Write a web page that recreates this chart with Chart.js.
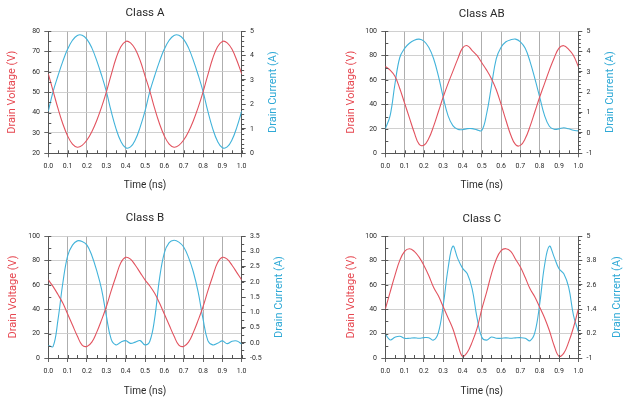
<!DOCTYPE html>
<html><head><meta charset="utf-8">
<script src="https://cdn.jsdelivr.net/npm/chart.js@4.4.1/dist/chart.umd.min.js"></script>
<style>
html,body{margin:0;padding:0;background:#fff;width:633px;height:402px;overflow:hidden}
.p{position:absolute}
</style></head><body>
<div class="p" style="left:0;top:0;width:316px;height:200px"><canvas id="cA"></canvas></div>
<div class="p" style="left:316px;top:0;width:317px;height:200px"><canvas id="cAB"></canvas></div>
<div class="p" style="left:0;top:200px;width:316px;height:202px"><canvas id="cB"></canvas></div>
<div class="p" style="left:316px;top:200px;width:317px;height:202px"><canvas id="cC"></canvas></div>
<script>
// ---- data (time in ns, voltage in V, current in A) ----
const TIME_NS = [0,0.025,0.05,0.075,0.1,0.125,0.15,0.175,0.2,0.225,0.25,0.275,0.3,0.325,0.35,0.375,0.4,0.425,0.45,0.475,0.5,
  0.525,0.55,0.575,0.6,0.625,0.65,0.675,0.7,0.725,0.75,0.775,0.8,0.825,0.85,0.875,0.9,0.925,0.95,0.975,1];

const PANEL_TITLES = ["Class A", "Class AB", "Class B", "Class C"];

const A_VOLTAGE = [59,50.5,42,34.5,28.5,24.5,23,23.9,26.5,30.6,36,42.5,50,58.5,66.5,72.3,74.9,74.2,71,65.5,58,
  50.5,42,34.5,28.5,24.5,23,23.9,26.5,30.6,36,42.5,50,58.5,66.5,72.3,74.9,74.2,71,65.5,59];
const A_CURRENT = [1.72,2.53,3.17,3.76,4.26,4.62,4.82,4.83,4.66,4.31,3.8,3.2,2.53,1.72,1.01,0.49,0.23,0.26,0.55,1.07,1.72,
  2.53,3.17,3.76,4.26,4.62,4.82,4.83,4.66,4.31,3.8,3.2,2.53,1.72,1.01,0.49,0.23,0.26,0.55,1.07,1.72];

const AB_VOLTAGE = [71,68,63,53,41,29,17,7.5,6.5,12,22,34,46,57,67,77,86,88,84,80,74,
  68,61,52,40,27,15,7,6.5,12,22,34,46,57,68,78,86,88,85,80,71];
const AB_CURRENT = [0.2,0.85,2.4,3.7,4.15,4.4,4.55,4.6,4.5,4.2,3.65,2.8,1.75,0.85,0.36,0.18,0.16,0.21,0.21,0.15,0.12,
  0.94,2.3,3.65,4.2,4.47,4.57,4.6,4.47,4.15,3.5,2.66,1.76,0.86,0.33,0.18,0.2,0.25,0.2,0.13,0.1];

const B_VOLTAGE = [64,58.5,52,45,36,27,18,10.5,9.5,13,21,31,42,55,67,78,82.5,81,76,70,64,
  59,53,45,36,27,18,10.5,9.5,13,21,31,42,55,67,78,82.5,81,76,70,64];
const B_CURRENT = [-0.09,-0.12,0.75,1.95,2.85,3.2,3.34,3.32,3.2,2.86,2.37,1.77,0.89,0.12,-0.07,0.02,0.07,-0.02,0.02,0.07,-0.07,
  0.05,0.8,2.1,2.95,3.28,3.36,3.3,3.14,2.8,2.32,1.66,0.78,0.07,-0.07,-0.02,0.06,-0.03,0.05,0.06,-0.04];

const C_VOLTAGE = [40,54,67.7,80,87.4,89.6,87.4,82.7,75.9,67.7,58,51,42,33,24,11.5,1.4,4.7,13,24,40,
  54,69,81,88,89.6,87.4,81,74.5,66,56.7,50,41.6,33,22.5,10,1.4,4,13,25,40];
const C_CURRENT = [0.18,-0.11,0.02,0.07,-0.03,-0.03,-0.01,-0.03,0,0,-0.12,0.25,1.58,3.39,4.5,3.9,3.42,3.14,2.4,1.0,0.02,
  -0.12,0.03,-0.03,-0.03,-0.01,-0.03,-0.01,0,-0.03,-0.15,0.26,1.66,3.55,4.5,3.96,3.39,3.14,2.48,1.1,0.3];

// axis ranges [min, max, step]
const X_RANGE = [0, 1, 0.1];
const A_LEFT = [20, 80, 10],  A_RIGHT = [0, 5, 1];
const AB_LEFT = [0, 100, 20], AB_RIGHT = [-1, 5, 1];
const B_LEFT = [0, 100, 20],  B_RIGHT = [-0.5, 3.5, 0.5];
const C_LEFT = [0, 100, 20],  C_RIGHT = [-1, 5, 1.2];

const X_TITLE = "Time (ns)", LEFT_TITLE = "Drain Voltage (V)", RIGHT_TITLE = "Drain Current (A)";

// ---- styling ----
const FONT = "Roboto";
const RED = "#e2535f", BLUE = "#42b3da";
const RED_T = "#e6464f", BLUE_T = "#2fa9d6";
const AXIS = "#555555";
const TXT = "#2a2a2a";

const extras = {
  id: 'extras',
  afterDraw(chart, args, o) {
    const {ctx, chartArea: a, scales} = chart;
    ctx.save();
    ctx.strokeStyle = AXIS; ctx.lineWidth = 1;
    ctx.beginPath();
    const sx = scales.x;
    for (let v = sx.min; v <= sx.max + 1e-9; v += o.xs) {
      const px = Math.round(sx.getPixelForValue(v)) + 0.5;
      ctx.moveTo(px, a.bottom); ctx.lineTo(px, a.bottom - 3);
    }
    const sy = scales.y;
    for (let v = sy.min; v <= sy.max + 1e-9; v += o.ys) {
      const py = Math.round(sy.getPixelForValue(v)) + 0.5;
      ctx.moveTo(a.left, py); ctx.lineTo(a.left + 3, py);
    }
    const sr = scales.y1;
    for (let v = sr.min; v <= sr.max + 1e-9; v += o.rs) {
      const py = Math.round(sr.getPixelForValue(v)) + 0.5;
      ctx.moveTo(a.right, py); ctx.lineTo(a.right + 2.5, py);
    }
    ctx.stroke();
    // right axis title, reading bottom-to-top like the left one
    ctx.translate(o.rx, (a.top + a.bottom) / 2);
    ctx.rotate(-Math.PI / 2);
    ctx.font = "11px " + FONT;
    ctx.fillStyle = BLUE_T;
    ctx.textAlign = 'center';
    ctx.textBaseline = 'middle';
    ctx.fillText(RIGHT_TITLE, 0, 0);
    ctx.restore();
  }
};

function fmt(v) { return String(Math.round(v * 10) / 10); }

function makePanel(id, title, volt, curr, L, R, cfg) {
  const pts = arr => TIME_NS.map((t, i) => ({x: t, y: arr[i]}));
  new Chart(document.getElementById(id), {
    type: 'line',
    data: {
      datasets: [
        {data: pts(volt), yAxisID: 'y', borderColor: RED, borderWidth: 1.1, pointRadius: 0, tension: 0.4, fill: false},
        {data: pts(curr), yAxisID: 'y1', borderColor: BLUE, borderWidth: 1.1, pointRadius: 0, tension: 0.4, fill: false}
      ]
    },
    options: {
      responsive: true, maintainAspectRatio: false, animation: false,
      layout: {padding: 0},
      plugins: {
        legend: {display: false}, tooltip: {enabled: false},
        title: {display: true, text: title, fullSize: false, color: TXT,
          font: {family: FONT, size: 11.5, weight: 'normal'},
          padding: {top: cfg.tt, bottom: cfg.tb}},
        extras: {xs: 0.05, ys: L[2] / 2, rs: cfg.rs, rx: cfg.rx}
      },
      scales: {
        x: {
          type: 'linear', position: 'bottom', min: X_RANGE[0], max: X_RANGE[1],
          afterFit: s => { s.height = cfg.hb; },
          ticks: {stepSize: X_RANGE[2], callback: v => v.toFixed(1), color: TXT, padding: 5,
            font: {family: FONT, size: 7}, maxRotation: 0, autoSkip: false},
          grid: {color: '#a5a5a5', lineWidth: 0.9, tickLength: 4, tickColor: AXIS},
          border: {color: AXIS, width: 1},
          title: {display: true, text: X_TITLE, color: TXT, font: {family: FONT, size: 10},
            padding: {top: 0, bottom: cfg.xp}}
        },
        y: {
          position: 'left', min: L[0], max: L[1],
          afterFit: s => { s.width = cfg.wl; },
          ticks: {stepSize: L[2], callback: fmt, color: TXT, padding: 4.3, font: {family: FONT, size: 7}},
          grid: {color: '#cbcbcb', lineWidth: 0.9, tickLength: 4, tickColor: AXIS},
          border: {color: AXIS, width: 1},
          title: {display: true, text: LEFT_TITLE, color: RED_T, font: {family: FONT, size: 11},
            padding: {top: cfg.lp, bottom: 0}}
        },
        y1: {
          position: 'right', min: R[0], max: R[1],
          afterFit: s => { s.width = cfg.wr; },
          ticks: {stepSize: R[2], callback: cfg.rf || fmt, color: TXT, padding: 4.3, font: {family: FONT, size: 7}},
          grid: {drawOnChartArea: false, tickLength: 4, tickColor: AXIS},
          border: {color: AXIS, width: 1},
          title: {display: false}
        }
      }
    },
    plugins: [extras]
  });
}

makePanel('cA', PANEL_TITLES[0], A_VOLTAGE, A_CURRENT, A_LEFT, A_RIGHT,
  {wl: 48.3, wr: 74.3, hb: 46.7, tt: 6.4, tb: 10.8, lp: 5.8, xp: 8.3, rs: 0.2, rx: 273});
makePanel('cAB', PANEL_TITLES[1], AB_VOLTAGE, AB_CURRENT, AB_LEFT, AB_RIGHT,
  {wl: 69.3, wr: 54.7, hb: 46.7, tt: 6.9, tb: 10.3, lp: 28.4, xp: 8.7, rs: 0.2, rx: 294.3});
makePanel('cB', PANEL_TITLES[2], B_VOLTAGE, B_CURRENT, B_LEFT, B_RIGHT,
  {wl: 48.3, wr: 74.3, hb: 44, tt: 11.1, tb: 11.1, lp: 6.7, xp: 5, rs: 0.25, rx: 279.3, rf: v => v.toFixed(1)});
makePanel('cC', PANEL_TITLES[3], C_VOLTAGE, C_CURRENT, C_LEFT, C_RIGHT,
  {wl: 69.3, wr: 54.7, hb: 44, tt: 12.3, tb: 9.9, lp: 28.4, xp: 5, rs: 0.2, rx: 301});
</script>
</body></html>
